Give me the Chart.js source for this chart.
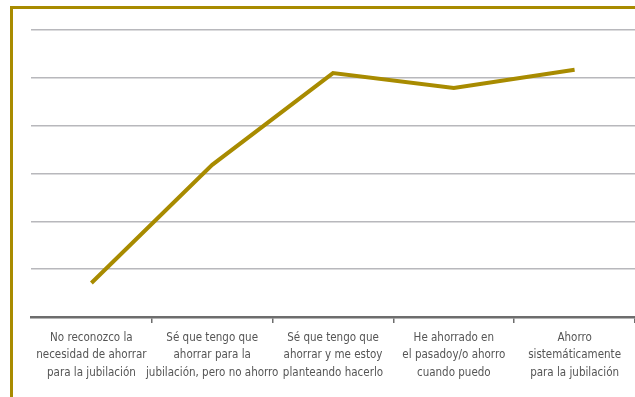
<!DOCTYPE html>
<html>
<head>
<meta charset="utf-8">
<script src="https://cdn.jsdelivr.net/npm/chart.js@4/dist/chart.umd.min.js"></script>
<style>
  body { margin: 0; background: #fff; overflow: hidden; }
  #frame { position: absolute; left: 10px; top: 6px; width: 700px; height: 450px; border: 3px solid #a88b00; box-sizing: border-box; }
  #wrap { position: absolute; left: 0; top: 0; width: 635px; height: 397px; }
</style>
</head>
<body>
<div id="frame"></div>
<div id="wrap"><canvas id="chart" width="635" height="397"></canvas></div>
<script>
const labels = [
  ['No reconozco la', 'necesidad de ahorrar', 'para la jubilación'],
  ['Sé que tengo que', 'ahorrar para la', 'jubilación, pero no ahorro'],
  ['Sé que tengo que', 'ahorrar y me estoy', 'planteando hacerlo'],
  ['He ahorrado en', 'el pasadoy/o ahorro', 'cuando puedo'],
  ['Ahorro', 'sistemáticamente', 'para la jubilación'],
];
const values = [7.1, 31.8, 51, 47.9, 51.7];
const yMin = 0;
const yMax = 60;
const yStep = 10;

const gold = '#a88b00';

const ctx = document.getElementById('chart').getContext('2d');
const myChart = new Chart(ctx, {
  type: 'line',
  data: {
    labels: labels,
    datasets: [
      {
        data: values,
        borderColor: gold,
        backgroundColor: gold,
        borderWidth: 4,
        pointRadius: 0,
        tension: 0,
        fill: false,
      },
    ],
  },
  options: {
    responsive: false,
    animation: false,
    layout: { padding: { left: 31, top: 30, right: 0, bottom: 0 } },
    plugins: { legend: { display: false }, tooltip: { enabled: false } },
    scales: {
      x: {
        offset: true,
        grid: {
          offset: true,
          drawOnChartArea: false,
          drawTicks: true,
          tickLength: 6,
          lineWidth: 1.5,
          color: (c) => (c.index === 0 ? 'rgba(0,0,0,0)' : '#6d6d6d'),
        },
        border: { display: true, color: '#6d6d6d', width: 2.5 },
        ticks: {
          color: '#555',
          padding: 6,
          maxRotation: 0,
          autoSkip: false,
          font: { family: "'DejaVu Sans Condensed', Lato, sans-serif", size: 11.5, lineHeight: 1.52 },
        },
        afterFit: (scale) => { scale.height = 80; },
      },
      y: {
        min: yMin,
        max: yMax,
        ticks: { display: false, stepSize: yStep },
        grid: { color: '#b8b8bc', lineWidth: 1.5, drawTicks: false },
        border: { display: false },
        afterFit: (scale) => { scale.width = 0; },
      },
    },
  },
});
</script>
</body>
</html>
